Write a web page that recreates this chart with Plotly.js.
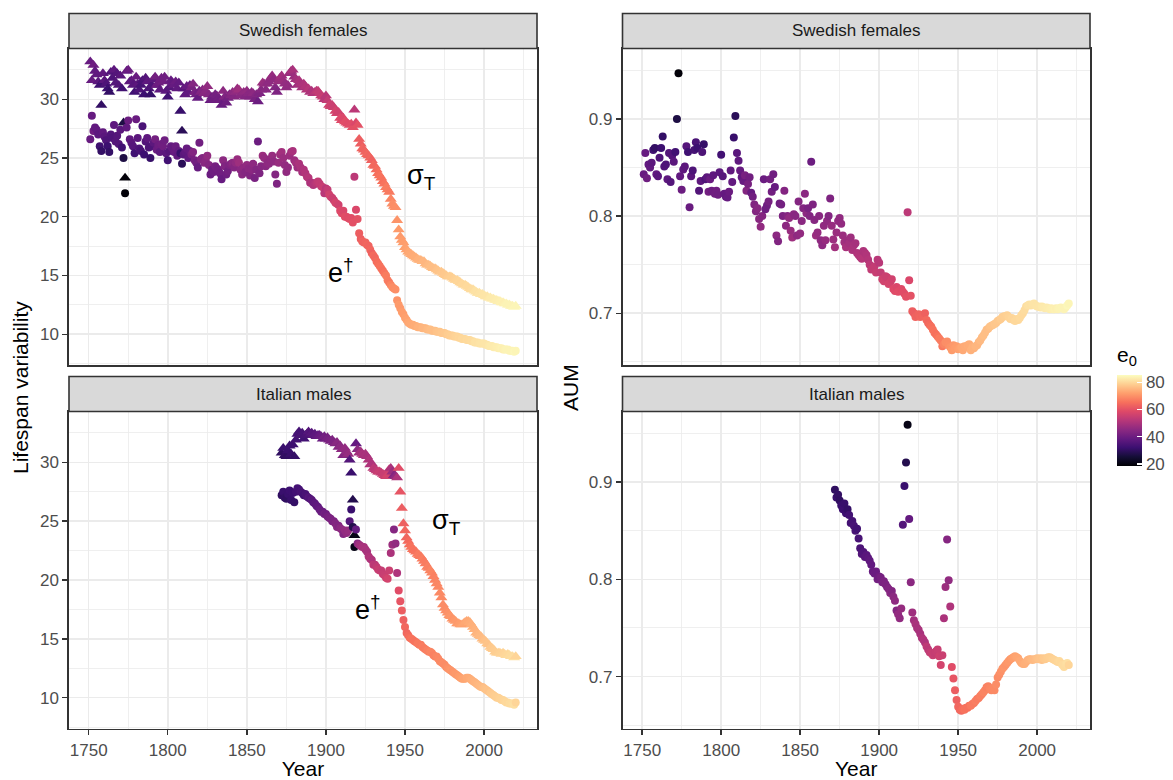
<!DOCTYPE html>
<html>
<head>
<meta charset="utf-8">
<script src="https://cdn.plot.ly/plotly-3.0.1.min.js"></script>
<style>
  html, body { margin: 0; padding: 0; background: #ffffff; }
  #chart { width: 1173px; height: 780px; }
</style>
</head>
<body>
<div id="chart"></div>
<script>
// ---------------- DATA ----------------
const panelTitlesTop = ["Swedish females", "Swedish females"];
const panelTitlesBottom = ["Italian males", "Italian males"];
const xTitle = "Year";
const yTitleLeft = "Lifespan variability";
const yTitleRight = "AUM";
const colorTitle = "e<sub>0</sub>";
const labelSigma = "σ<sub>T</sub>";
const labelEdag = "e<sup>†</sup>";

const yearsSWE = [
1751,1752,1753,1754,1755,1756,1757,1758,1759,1760,
1761,1762,1763,1764,1765,1766,1767,1768,1769,1770,
1771,1772,1773,1774,1775,1776,1777,1778,1779,1780,
1781,1782,1783,1784,1785,1786,1787,1788,1789,1790,
1791,1792,1793,1794,1795,1796,1797,1798,1799,1800,
1801,1802,1803,1804,1805,1806,1807,1808,1809,1810,
1811,1812,1813,1814,1815,1816,1817,1818,1819,1820,
1821,1822,1823,1824,1825,1826,1827,1828,1829,1830,
1831,1832,1833,1834,1835,1836,1837,1838,1839,1840,
1841,1842,1843,1844,1845,1846,1847,1848,1849,1850,
1851,1852,1853,1854,1855,1856,1857,1858,1859,1860,
1861,1862,1863,1864,1865,1866,1867,1868,1869,1870,
1871,1872,1873,1874,1875,1876,1877,1878,1879,1880,
1881,1882,1883,1884,1885,1886,1887,1888,1889,1890,
1891,1892,1893,1894,1895,1896,1897,1898,1899,1900,
1901,1902,1903,1904,1905,1906,1907,1908,1909,1910,
1911,1912,1913,1914,1915,1916,1917,1918,1919,1920,
1921,1922,1923,1924,1925,1926,1927,1928,1929,1930,
1931,1932,1933,1934,1935,1936,1937,1938,1939,1940,
1941,1942,1943,1944,1945,1946,1947,1948,1949,1950,
1951,1952,1953,1954,1955,1956,1957,1958,1959,1960,
1961,1962,1963,1964,1965,1966,1967,1968,1969,1970,
1971,1972,1973,1974,1975,1976,1977,1978,1979,1980,
1981,1982,1983,1984,1985,1986,1987,1988,1989,1990,
1991,1992,1993,1994,1995,1996,1997,1998,1999,2000,
2001,2002,2003,2004,2005,2006,2007,2008,2009,2010,
2011,2012,2013,2014,2015,2016,2017,2018,2019,2020];

const e0SWE = [
39.6,39.3,40.6,38.5,38.6,37.6,33.0,31.0,38.6,37.4,
35.5,32.5,31.1,36.0,35.5,38.0,36.5,36.5,36.2,37.4,
33.4,27.4,19.6,38.5,40.2,38.2,37.5,36.8,33.1,39.9,
37.5,35.5,34.3,34.8,32.5,36.2,38.0,35.4,31.5,35.6,
37.8,41.5,40.0,40.5,38.0,41.0,41.0,40.7,37.6,33.5,
36.7,39.2,38.8,39.4,40.0,38.3,38.9,31.8,29.6,37.3,
38.2,39.5,38.5,39.6,42.3,44.2,42.3,41.2,39.5,41.1,
43.8,44.2,44.8,45.1,46.5,44.3,40.0,40.6,40.6,42.0,
41.5,41.4,41.0,39.5,45.5,43.8,40.6,41.5,43.2,44.1,
45.7,44.5,46.4,47.5,48.5,45.4,45.0,46.2,44.3,46.6,
45.4,44.0,45.3,45.8,42.5,44.2,40.3,43.4,44.6,47.9,
47.0,45.0,46.2,45.9,46.3,47.2,46.1,44.2,43.3,47.4,
48.2,49.0,47.8,46.9,46.3,46.6,48.0,48.8,50.1,48.2,
49.3,48.5,50.4,50.2,49.6,51.0,51.5,51.6,52.2,50.7,
51.1,51.3,51.9,52.9,54.0,54.3,54.3,55.0,52.5,52.6,
54.4,56.2,56.6,55.6,55.7,57.3,57.0,56.5,58.7,59.1,
58.2,59.7,59.4,59.1,59.4,59.5,60.2,53.2,58.3,60.4,
62.6,62.6,63.6,63.2,63.5,64.0,63.6,63.9,63.1,64.4,
64.1,64.8,65.4,65.9,65.8,65.5,66.2,67.3,67.3,67.0,
68.5,69.8,69.8,70.0,70.7,71.6,71.4,71.9,71.9,72.4,
72.7,73.3,73.6,73.8,73.9,74.1,74.1,74.7,75.0,74.9,
75.4,75.4,75.4,75.9,76.1,76.5,76.5,76.5,76.5,77.1,
77.3,77.4,77.7,77.8,77.9,78.0,78.5,78.6,78.8,78.8,
79.1,79.4,79.6,79.9,79.7,80.2,80.2,80.1,80.5,80.4,
80.5,80.8,80.8,81.4,81.6,81.5,81.8,81.9,81.9,82.0,
82.1,82.1,82.4,82.7,82.8,82.9,83.0,83.2,83.3,83.5,
83.7,83.5,83.7,84.1,84.0,84.1,84.1,84.1,84.7,84.3];

const sigmaSWE = [
33.2,31.6,32.9,32.4,32.1,31.5,31.2,29.5,32.2,31.6,
31.3,30.9,30.6,32.3,31.8,32.5,31.4,32.2,31.2,32.0,
30.9,28.0,23.3,32.4,32.5,31.5,31.6,31.2,30.6,31.9,
31.3,30.8,31.2,31.6,30.4,31.8,31.5,30.9,30.4,31.2,
31.7,31.9,31.2,31.4,30.8,31.8,31.5,31.9,30.7,30.2,
31.0,31.6,31.4,31.2,31.5,30.9,31.4,29.0,27.3,30.9,
30.4,31.1,30.6,31.2,31.0,31.3,30.6,30.4,30.1,30.7,
30.6,30.8,30.5,30.7,31.1,30.4,29.9,30.2,30.0,30.4,
30.3,30.1,29.9,29.5,30.7,30.2,29.7,30.1,30.4,30.3,
30.6,30.2,30.6,30.9,30.8,30.3,30.4,30.6,30.2,30.7,
30.5,30.2,30.6,30.5,30.0,30.4,29.8,30.5,30.8,31.4,
31.3,30.8,31.3,31.5,31.8,32.0,31.7,31.0,30.6,31.5,
31.8,32.0,31.6,31.3,31.0,31.2,32.2,32.4,32.5,31.9,
31.7,31.2,31.6,31.3,31.0,31.3,31.1,30.8,30.9,30.6,
30.7,30.5,30.6,30.7,30.7,30.5,30.3,30.2,30.0,30.3,
29.9,29.5,29.4,29.5,29.3,29.0,28.8,28.9,28.4,28.2,
28.4,28.1,28.0,27.9,27.8,27.9,27.6,29.1,28.0,27.8,
26.6,26.2,25.8,25.7,25.5,25.3,25.2,25.0,24.8,24.4,
24.3,24.0,23.7,23.5,23.3,23.0,22.8,22.5,22.3,22.1,
21.5,21.1,20.9,20.8,19.7,18.9,18.3,18.0,17.8,17.4,
17.2,17.0,16.9,16.8,16.7,16.6,16.5,16.4,16.3,16.3,
16.2,16.2,16.0,15.9,15.9,15.8,15.7,15.6,15.6,15.5,
15.4,15.3,15.3,15.2,15.1,15.0,14.9,14.9,14.9,14.8,
14.7,14.6,14.6,14.5,14.4,14.3,14.2,14.2,14.1,14.0,
13.9,13.8,13.8,13.7,13.6,13.5,13.5,13.4,13.4,13.3,
13.2,13.2,13.1,13.1,13.0,13.0,12.9,12.9,12.8,12.8,
12.7,12.7,12.6,12.6,12.5,12.5,12.4,12.4,12.3,12.4];

const edagSWE = [
26.6,28.6,27.3,27.6,27.4,27.0,26.0,25.6,27.2,26.8,
26.5,26.0,25.5,27.0,26.7,27.8,26.4,26.9,26.2,27.4,
25.9,25.0,22.0,27.6,28.2,26.6,26.3,26.0,25.4,28.3,
26.7,25.8,25.6,27.7,25.3,26.4,26.7,25.9,25.0,26.0,
26.3,26.6,25.7,26.1,25.5,26.2,26.0,26.5,25.4,24.8,
25.6,26.0,25.8,25.5,26.0,25.2,25.6,25.4,24.5,25.3,
25.5,25.8,25.0,25.6,25.3,25.5,24.8,24.6,24.2,26.3,
24.9,25.0,24.6,24.8,25.2,24.4,23.6,24.0,23.8,24.3,
24.1,24.0,23.7,23.2,24.8,24.3,23.6,23.9,24.4,24.5,
24.6,24.2,24.6,24.9,24.6,24.0,23.6,24.2,23.8,24.4,
24.1,23.5,24.0,24.5,23.3,24.0,26.4,23.7,24.3,25.2,
25.0,24.3,24.6,24.5,24.9,25.2,24.7,23.6,22.8,24.6,
25.3,25.5,25.0,24.4,23.8,24.2,25.2,25.5,25.6,24.8,
24.6,24.2,24.5,24.2,23.8,24.0,23.7,23.4,23.3,22.9,
22.9,22.7,22.8,22.9,23.0,22.8,22.6,22.5,22.0,22.4,
22.3,21.9,21.7,21.6,21.4,21.2,21.1,21.0,20.5,20.3,
20.5,20.0,20.0,19.9,19.8,19.9,19.5,23.4,20.6,19.8,
18.6,18.1,17.9,17.8,17.8,17.6,17.5,17.2,16.9,16.7,
16.5,16.2,16.0,15.8,15.6,15.4,15.2,15.0,14.6,14.4,
14.2,14.0,13.9,13.8,12.9,12.5,12.2,11.9,11.7,11.4,
11.2,11.0,10.9,10.8,10.8,10.7,10.7,10.6,10.6,10.6,
10.5,10.5,10.5,10.4,10.4,10.4,10.3,10.3,10.3,10.2,
10.2,10.2,10.1,10.1,10.1,10.0,10.0,9.9,9.9,9.9,
9.8,9.8,9.8,9.7,9.7,9.6,9.6,9.6,9.5,9.5,
9.5,9.4,9.4,9.3,9.3,9.3,9.2,9.2,9.2,9.2,
9.1,9.1,9.0,9.0,9.0,8.9,8.9,8.9,8.8,8.8,
8.8,8.7,8.7,8.7,8.7,8.6,8.6,8.6,8.5,8.6];

const aumSWE = [
0.843,0.865,0.839,0.853,0.850,0.855,0.868,0.870,0.843,0.841,
0.860,0.870,0.882,0.851,0.853,0.838,0.865,0.835,0.862,0.856,
0.866,0.900,0.947,0.841,0.827,0.848,0.851,0.872,0.866,0.809,
0.841,0.847,0.868,0.876,0.870,0.826,0.836,0.866,0.874,0.838,
0.840,0.825,0.838,0.826,0.842,0.823,0.826,0.822,0.845,0.863,
0.841,0.823,0.820,0.819,0.825,0.847,0.835,0.881,0.903,0.865,
0.857,0.847,0.840,0.836,0.842,0.826,0.833,0.840,0.824,0.820,
0.812,0.805,0.808,0.797,0.789,0.800,0.838,0.807,0.811,0.815,
0.838,0.825,0.843,0.830,0.780,0.774,0.813,0.812,0.800,0.826,
0.790,0.800,0.798,0.785,0.778,0.802,0.800,0.780,0.815,0.782,
0.795,0.808,0.823,0.803,0.808,0.800,0.856,0.812,0.796,0.780,
0.783,0.800,0.775,0.770,0.790,0.775,0.795,0.800,0.818,0.790,
0.776,0.768,0.783,0.795,0.798,0.792,0.780,0.773,0.768,0.775,
0.772,0.778,0.765,0.770,0.772,0.762,0.760,0.758,0.756,0.764,
0.762,0.760,0.755,0.750,0.745,0.746,0.748,0.742,0.755,0.752,
0.742,0.735,0.733,0.738,0.737,0.730,0.732,0.735,0.725,0.723,
0.727,0.722,0.723,0.725,0.722,0.720,0.717,0.804,0.734,0.718,
0.702,0.700,0.696,0.698,0.699,0.696,0.698,0.697,0.700,0.693,
0.690,0.688,0.686,0.683,0.680,0.678,0.676,0.674,0.672,0.666,
0.668,0.670,0.671,0.667,0.665,0.662,0.667,0.664,0.666,0.663,
0.664,0.665,0.662,0.666,0.665,0.667,0.668,0.662,0.665,0.664,
0.666,0.667,0.670,0.672,0.675,0.677,0.680,0.683,0.684,0.686,
0.687,0.688,0.689,0.690,0.692,0.693,0.694,0.696,0.697,0.697,
0.698,0.696,0.694,0.695,0.693,0.692,0.694,0.693,0.695,0.698,
0.700,0.703,0.707,0.708,0.709,0.708,0.709,0.710,0.708,0.707,
0.707,0.706,0.707,0.706,0.705,0.706,0.705,0.704,0.705,0.704,
0.704,0.705,0.704,0.705,0.706,0.705,0.704,0.706,0.708,0.710];

const yearsITA = [
1872,1873,1874,1875,1876,1877,1878,1879,1880,
1881,1882,1883,1884,1885,1886,1887,1888,1889,1890,
1891,1892,1893,1894,1895,1896,1897,1898,1899,1900,
1901,1902,1903,1904,1905,1906,1907,1908,1909,1910,
1911,1912,1913,1914,1915,1916,1917,1918,1919,1920,
1921,1922,1923,1924,1925,1926,1927,1928,1929,1930,
1931,1932,1933,1934,1935,1936,1937,1938,1939,1940,
1941,1942,1943,1944,1945,1946,1947,1948,1949,1950,
1951,1952,1953,1954,1955,1956,1957,1958,1959,1960,
1961,1962,1963,1964,1965,1966,1967,1968,1969,1970,
1971,1972,1973,1974,1975,1976,1977,1978,1979,1980,
1981,1982,1983,1984,1985,1986,1987,1988,1989,1990,
1991,1992,1993,1994,1995,1996,1997,1998,1999,2000,
2001,2002,2003,2004,2005,2006,2007,2008,2009,2010,
2011,2012,2013,2014,2015,2016,2017,2018,2019,2020];

const e0ITA = [
30.5,32.0,31.0,30.5,32.0,32.5,31.8,32.5,31.2,
33.5,34.0,34.0,34.5,34.5,33.5,34.5,35.0,36.5,36.0,
37.0,37.2,37.8,38.2,38.5,39.5,40.2,40.0,41.5,41.0,
42.0,42.5,42.8,43.2,43.2,44.0,45.0,44.0,45.5,46.0,
44.2,46.8,46.5,47.0,36.5,32.0,28.5,21.5,39.0,45.5,
48.5,49.0,50.2,50.0,50.2,50.0,51.0,51.5,51.0,53.5,
53.0,54.0,55.0,55.2,54.5,55.0,55.2,56.0,57.0,55.5,
50.5,48.0,44.5,46.5,51.0,59.5,61.0,62.5,63.0,64.0,
63.8,64.5,65.2,66.0,66.0,65.8,66.0,67.0,67.2,67.0,
67.5,67.2,67.3,68.0,67.8,68.5,68.5,68.0,68.2,68.8,
69.0,69.2,69.2,69.7,69.6,69.8,70.2,70.7,70.9,70.6,
71.1,71.5,71.4,72.0,72.2,72.6,73.0,73.2,73.6,73.7,
74.0,74.4,74.6,74.9,75.1,75.4,75.8,75.9,76.3,76.8,
77.1,77.3,77.2,78.0,78.1,78.5,78.7,78.8,79.0,79.3,
79.5,79.6,79.9,80.3,80.1,80.6,80.6,80.9,81.2,79.7];

const sigmaITA = [
30.8,31.2,30.6,30.5,31.0,31.4,30.7,31.5,30.5,
31.9,32.4,32.6,32.3,32.5,32.0,32.3,32.4,32.6,32.4,
32.5,32.3,32.4,32.2,32.3,32.3,32.2,32.0,32.2,32.0,
32.1,31.9,31.8,31.9,31.7,31.6,31.7,31.3,31.4,31.1,
30.6,31.2,30.9,30.7,30.2,29.1,26.8,23.8,31.6,31.1,
30.8,30.9,30.7,30.6,30.7,30.5,30.2,29.8,29.9,29.5,
29.4,29.3,29.2,29.2,29.1,29.0,28.9,28.8,28.9,29.4,
29.5,29.2,28.9,28.8,28.7,29.5,27.5,26.1,24.8,24.2,
23.6,23.3,23.0,22.8,22.6,22.5,22.4,22.2,22.1,22.0,
21.8,21.6,21.4,21.1,21.0,20.8,20.6,20.3,20.0,19.7,
19.4,18.9,18.5,17.9,17.6,17.4,17.2,17.0,16.9,16.7,
16.6,16.5,16.3,16.3,16.2,16.2,16.3,16.4,16.5,16.5,
16.4,16.2,16.0,15.8,15.5,15.4,15.3,15.2,15.0,14.9,
14.8,14.6,14.5,14.3,14.2,14.1,13.9,13.8,13.8,13.8,
13.7,13.8,13.7,13.6,13.7,13.6,13.5,13.5,13.4,13.5];

const edagITA = [
27.2,27.5,27.0,26.9,27.3,27.6,26.8,27.4,26.6,
27.5,27.8,27.7,27.5,27.4,27.2,27.3,27.1,27.0,26.9,
26.8,26.6,26.5,26.3,26.2,26.0,25.8,25.8,25.6,25.6,
25.4,25.3,25.2,25.0,25.0,24.8,24.5,24.6,24.4,24.3,
23.9,24.2,24.0,24.2,25.0,26.0,24.5,22.8,24.3,23.1,
23.0,22.9,22.8,22.8,22.6,22.4,22.0,21.8,21.7,21.3,
21.3,21.1,20.9,20.8,20.8,20.5,20.4,20.2,20.1,20.8,
22.3,23.0,24.3,23.1,20.6,19.1,18.2,17.4,16.6,16.0,
15.5,15.3,15.1,15.0,14.9,14.8,14.7,14.6,14.5,14.5,
14.3,14.2,14.1,14.0,13.9,13.9,13.8,13.6,13.5,13.5,
13.3,13.1,13.0,12.9,12.8,12.6,12.5,12.4,12.3,12.2,
12.1,12.0,11.9,11.8,11.7,11.6,11.6,11.6,11.7,11.7,
11.6,11.5,11.4,11.3,11.2,11.1,11.0,10.9,10.9,10.8,
10.7,10.6,10.5,10.4,10.3,10.2,10.1,10.0,10.0,9.9,
9.8,9.8,9.7,9.6,9.6,9.5,9.5,9.5,9.4,9.6];

const aumITA = [
0.892,0.884,0.887,0.881,0.876,0.872,0.878,0.868,0.872,
0.866,0.858,0.860,0.855,0.850,0.852,0.842,0.832,0.826,0.828,
0.823,0.825,0.822,0.819,0.815,0.808,0.806,0.808,0.800,0.803,
0.802,0.797,0.798,0.795,0.792,0.790,0.786,0.788,0.782,0.778,
0.768,0.764,0.760,0.770,0.856,0.896,0.920,0.959,0.862,0.797,
0.766,0.758,0.754,0.750,0.748,0.744,0.740,0.738,0.735,0.731,
0.728,0.725,0.724,0.722,0.724,0.726,0.728,0.721,0.712,0.722,
0.760,0.792,0.841,0.799,0.772,0.710,0.698,0.686,0.676,0.669,
0.666,0.665,0.667,0.666,0.668,0.668,0.670,0.670,0.672,0.673,
0.675,0.677,0.678,0.680,0.682,0.684,0.686,0.689,0.690,0.688,
0.686,0.688,0.686,0.692,0.699,0.702,0.705,0.708,0.710,0.712,
0.714,0.716,0.718,0.719,0.720,0.721,0.720,0.719,0.716,0.714,
0.713,0.713,0.715,0.717,0.718,0.718,0.717,0.718,0.718,0.719,
0.718,0.719,0.717,0.719,0.718,0.719,0.720,0.720,0.719,0.718,
0.717,0.716,0.715,0.716,0.714,0.712,0.710,0.713,0.714,0.712];

const colorTicks = [20, 40, 60, 80];

// ---------------- STYLE ----------------
const W = 1173, H = 780;
const FONT = "Liberation Sans, Arial, Helvetica, sans-serif";
const magma = [
  [0.0, "#000004"], [0.1, "#140E36"], [0.2, "#3B0F70"], [0.3, "#641A80"],
  [0.4, "#8C2981"], [0.5, "#B73779"], [0.6, "#DE4968"], [0.7, "#F7705C"],
  [0.8, "#FE9F6D"], [0.9, "#FECF92"], [1.0, "#FCFDBF"]
];
const CMIN = 19.1, CMAX = 85.5;

const px = v => v / W;
const py = v => 1 - v / H;

const leftX = [69, 537], rightX = [622.5, 1090];
const topY = [48.5, 365], botY = [411.5, 728.5];
const topStrip = [13.5, 48.5], botStrip = [376.5, 411.5];

const TRI = 10.5, DOT = 8;

function markerFor(e0, symbol, size, showscale) {
  const m = {
    color: e0, colorscale: magma, cmin: CMIN, cmax: CMAX,
    symbol: symbol, size: size, line: { width: 0 }, opacity: 1,
    showscale: !!showscale
  };
  if (showscale) {
    m.colorbar = {
      x: px(1117), xanchor: "left", xpad: 0,
      y: py(404.2), yanchor: "middle", ypad: 0,
      len: 122, lenmode: "pixels",
      thickness: 25, thicknessmode: "pixels",
      outlinewidth: 0,
      tickvals: colorTicks,
      ticks: "inside", ticklen: 5, tickcolor: "#ffffff", tickwidth: 1.2,
      tickfont: { family: FONT, size: 17, color: "#4D4D4D" },
      title: { text: colorTitle, side: "top", font: { family: FONT, size: 21, color: "#000000" } }
    };
  }
  return m;
}

const traces = [
  { type: "scatter", mode: "markers", x: yearsSWE, y: sigmaSWE, xaxis: "x", yaxis: "y",
    marker: markerFor(e0SWE, "triangle-up", TRI, false), hoverinfo: "skip" },
  { type: "scatter", mode: "markers", x: yearsSWE, y: edagSWE, xaxis: "x", yaxis: "y",
    marker: markerFor(e0SWE, "circle", DOT, false), hoverinfo: "skip" },
  { type: "scatter", mode: "markers", x: yearsITA, y: sigmaITA, xaxis: "x3", yaxis: "y3",
    marker: markerFor(e0ITA, "triangle-up", TRI, false), hoverinfo: "skip" },
  { type: "scatter", mode: "markers", x: yearsITA, y: edagITA, xaxis: "x3", yaxis: "y3",
    marker: markerFor(e0ITA, "circle", DOT, false), hoverinfo: "skip" },
  { type: "scatter", mode: "markers", x: yearsSWE, y: aumSWE, xaxis: "x2", yaxis: "y2",
    marker: markerFor(e0SWE, "circle", DOT, false), hoverinfo: "skip" },
  { type: "scatter", mode: "markers", x: yearsITA, y: aumITA, xaxis: "x4", yaxis: "y4",
    marker: markerFor(e0ITA, "circle", DOT, true), hoverinfo: "skip" }
];

const XR = [1737.55, 2033.45];
const YL = [7.38, 34.32];
const YR = [0.6467, 0.9725];

function xAxis(domainPx, anchor, showLabels, title) {
  const a = {
    domain: [px(domainPx[0]), px(domainPx[1])], anchor: anchor, range: XR,
    tick0: 1750, dtick: 50, showgrid: true, gridcolor: "#EBEBEB", gridwidth: 1.5,
    minor: { dtick: 25, showgrid: true, gridcolor: "#EBEBEB", gridwidth: 0.8, ticks: "" },
    zeroline: false, showline: true, mirror: true, linecolor: "#333333", linewidth: 1.6,
    ticks: showLabels ? "outside" : "", ticklen: 5, tickwidth: 1.4, tickcolor: "#333333",
    showticklabels: showLabels,
    tickfont: { family: FONT, size: 17, color: "#4D4D4D" }
  };
  if (title) a.title = { text: title, font: { family: FONT, size: 21, color: "#000000" }, standoff: 4 };
  return a;
}
function yAxis(domainPx, anchor, range, tick0, dtick, minorDtick) {
  return {
    domain: [py(domainPx[1]), py(domainPx[0])], anchor: anchor, range: range,
    tick0: tick0, dtick: dtick, showgrid: true, gridcolor: "#EBEBEB", gridwidth: 1.5,
    minor: { dtick: minorDtick, showgrid: true, gridcolor: "#EBEBEB", gridwidth: 0.8, ticks: "" },
    zeroline: false, showline: true, mirror: true, linecolor: "#333333", linewidth: 1.6,
    ticks: "outside", ticklen: 5, tickwidth: 1.4, tickcolor: "#333333",
    tickfont: { family: FONT, size: 17, color: "#4D4D4D" }
  };
}

function strip(xpx, ypx) {
  return { type: "rect", xref: "paper", yref: "paper",
    x0: px(xpx[0]), x1: px(xpx[1]), y0: py(ypx[1]), y1: py(ypx[0]),
    fillcolor: "#D9D9D9", line: { color: "#333333", width: 1.6 }, layer: "above" };
}
function stripLabel(text, xpx, ypx) {
  return { text: text, xref: "paper", yref: "paper",
    x: px((xpx[0] + xpx[1]) / 2), y: py((ypx[0] + ypx[1]) / 2),
    xanchor: "center", yanchor: "middle", showarrow: false,
    font: { family: FONT, size: 17, color: "#1A1A1A" } };
}
function curveLabel(text, xref, yref, x, y) {
  return { text: text, xref: xref, yref: yref, x: x, y: y,
    xanchor: "left", yanchor: "middle", showarrow: false, borderpad: 0,
    font: { family: FONT, size: 27, color: "#000000" } };
}

const layout = {
  width: W, height: H,
  margin: { l: 0, r: 0, t: 0, b: 0, pad: 0 },
  paper_bgcolor: "#ffffff", plot_bgcolor: "#ffffff",
  showlegend: false,
  font: { family: FONT },
  xaxis: xAxis(leftX, "y", false),
  yaxis: yAxis(topY, "x", YL, 10, 5, 2.5),
  xaxis2: xAxis(rightX, "y2", false),
  yaxis2: yAxis(topY, "x2", YR, 0.7, 0.1, 0.05),
  xaxis3: xAxis(leftX, "y3", true, xTitle),
  yaxis3: yAxis(botY, "x3", YL, 10, 5, 2.5),
  xaxis4: xAxis(rightX, "y4", true, xTitle),
  yaxis4: yAxis(botY, "x4", YR, 0.7, 0.1, 0.05),
  shapes: [
    strip(leftX, topStrip), strip(rightX, topStrip),
    strip(leftX, botStrip), strip(rightX, botStrip)
  ],
  annotations: [
    stripLabel(panelTitlesTop[0], leftX, topStrip),
    stripLabel(panelTitlesTop[1], rightX, topStrip),
    stripLabel(panelTitlesBottom[0], leftX, botStrip),
    stripLabel(panelTitlesBottom[1], rightX, botStrip),
    { text: yTitleLeft, xref: "paper", yref: "paper", x: px(20), y: py(388),
      xanchor: "center", yanchor: "middle", textangle: -90, showarrow: false,
      font: { family: FONT, size: 21, color: "#000000" } },
    { text: yTitleRight, xref: "paper", yref: "paper", x: px(570), y: py(388),
      xanchor: "center", yanchor: "middle", textangle: -90, showarrow: false,
      font: { family: FONT, size: 21, color: "#000000" } },
    curveLabel(labelSigma, "x", "y", 1950.5, 23.35),
    curveLabel(labelEdag, "x", "y", 1900.4, 15.4),
    curveLabel(labelSigma, "x3", "y3", 1966.2, 24.95),
    curveLabel(labelEdag, "x3", "y3", 1917.5, 17.6)
  ]
};

Plotly.newPlot("chart", traces, layout, { staticPlot: true, displayModeBar: false });
</script>
</body>
</html>
